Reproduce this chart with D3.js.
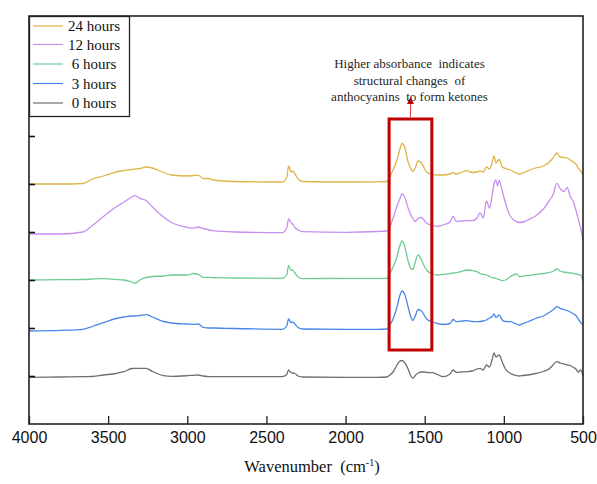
<!DOCTYPE html>
<html>
<head>
<meta charset="utf-8">
<script src="https://cdn.jsdelivr.net/npm/d3@7"></script>
<style>
  html, body { margin: 0; padding: 0; background: #fff; }
  svg { display: block; }
</style>
</head>
<body>
<svg id="chart" width="597" height="484"></svg>
<script>
// FTIR spectra recorded at several storage times (absorbance, stacked with an offset)
const wavenumbers = [4000, 3800, 3660, 3600, 3530, 3450, 3400, 3350, 3330, 3300,
  3260, 3220, 3150, 3100, 3000, 2960, 2930, 2900, 2860, 2840,
  2700, 2400, 2372, 2360, 2345, 2335, 2320, 2300, 2270, 2000,
  1800, 1740, 1720, 1700, 1675, 1660, 1643, 1625, 1605, 1590,
  1575, 1560, 1542, 1520, 1500, 1485, 1450, 1420, 1385, 1340,
  1320, 1300, 1270, 1235, 1200, 1170, 1150, 1130, 1110, 1090,
  1075, 1062, 1050, 1040, 1030, 1010, 990, 960, 920, 900,
  880, 850, 800, 750, 700, 690, 665, 645, 620, 600,
  580, 560, 545, 530, 515, 500];

const abs24h = [0, 0, 0.005, 0.05, 0.08, 0.12, 0.135, 0.145, 0.15, 0.155,
  0.17, 0.16, 0.115, 0.09, 0.08, 0.085, 0.087, 0.055, 0.055, 0.04,
  0.025, 0.02, 0.06, 0.18, 0.12, 0.13, 0.10, 0.05, 0.025, 0.02,
  0.022, 0.025, 0.07, 0.14, 0.24, 0.33, 0.405, 0.36, 0.22, 0.16,
  0.125, 0.16, 0.23, 0.21, 0.15, 0.115, 0.097, 0.09, 0.09, 0.10,
  0.113, 0.10, 0.115, 0.133, 0.115, 0.12, 0.13, 0.12, 0.17, 0.15,
  0.21, 0.28, 0.21, 0.23, 0.245, 0.17, 0.155, 0.14, 0.11, 0.10,
  0.11, 0.13, 0.16, 0.18, 0.24, 0.26, 0.31, 0.27, 0.265, 0.26,
  0.24, 0.22, 0.20, 0.16, 0.13, 0.10];

const abs12h = [-0.02, -0.02, 0, 0.065, 0.155, 0.25, 0.30, 0.35, 0.363, 0.337,
  0.315, 0.25, 0.15, 0.095, 0.047, 0.038, 0.05, 0.035, 0.02, 0.013,
  0, -0.007, 0.04, 0.13, 0.095, 0.08, 0.045, 0.02, 0.003, -0.003,
  0.005, 0.01, 0.053, 0.14, 0.26, 0.32, 0.38, 0.345, 0.24, 0.18,
  0.135, 0.105, 0.135, 0.145, 0.11, 0.085, 0.065, 0.055, 0.07, 0.10,
  0.155, 0.105, 0.11, 0.113, 0.113, 0.14, 0.19, 0.14, 0.31, 0.24,
  0.36, 0.48, 0.52, 0.46, 0.515, 0.41, 0.29, 0.16, 0.103, 0.095,
  0.10, 0.12, 0.16, 0.23, 0.345, 0.37, 0.487, 0.437, 0.405, 0.445,
  0.353, 0.30, 0.22, 0.13, 0.04, -0.08];

const abs6h = [0, 0.003, 0.005, 0.01, 0.013, 0.005, 0, -0.02, -0.033, 0,
  0.025, 0.035, 0.04, 0.05, 0.05, 0.065, 0.057, 0.027, 0.027, 0.023,
  0.02, 0.017, 0.05, 0.145, 0.10, 0.10, 0.07, 0.03, 0.013, 0.017,
  0.017, 0.017, 0.067, 0.13, 0.235, 0.33, 0.39, 0.33, 0.19, 0.12,
  0.105, 0.18, 0.25, 0.20, 0.13, 0.095, 0.06, 0.05, 0.055, 0.065,
  0.07, 0.073, 0.085, 0.10, 0.095, 0.083, 0.065, 0.055, 0.05, 0.035,
  0.025, 0.02, 0.015, 0.01, 0.005, -0.007, 0, 0.033, 0.06, 0.033,
  0.04, 0.045, 0.055, 0.065, 0.08, 0.085, 0.11, 0.09, 0.08, 0.075,
  0.07, 0.067, 0.06, 0.055, 0.05, -0.017];

const abs3h = [-0.03, -0.023, -0.013, 0.015, 0.053, 0.095, 0.11, 0.12, 0.12, 0.125,
  0.133, 0.11, 0.065, 0.05, 0.04, 0.037, 0.04, 0.007, 0, 0,
  -0.005, -0.013, 0.02, 0.09, 0.053, 0.06, 0.04, 0.005, -0.01, -0.013,
  -0.013, -0.01, 0.03, 0.09, 0.21, 0.31, 0.37, 0.33, 0.21, 0.12,
  0.075, 0.12, 0.185, 0.17, 0.12, 0.085, 0.06, 0.045, 0.035, 0.045,
  0.085, 0.063, 0.068, 0.073, 0.065, 0.063, 0.065, 0.07, 0.08, 0.10,
  0.11, 0.14, 0.105, 0.115, 0.13, 0.08, 0.065, 0.063, 0.04, 0.03,
  0.045, 0.06, 0.095, 0.12, 0.17, 0.18, 0.213, 0.197, 0.185, 0.175,
  0.16, 0.14, 0.125, 0.09, 0.057, 0.03];

const abs0h = [-0.013, -0.01, -0.007, -0.005, 0.01, 0.025, 0.043, 0.075, 0.077, 0.077,
  0.077, 0.045, 0.003, -0.003, 0.003, 0.007, 0.01, 0, -0.007, -0.007,
  -0.007, -0.007, 0.015, 0.06, 0.035, 0.03, 0.025, 0, -0.01, -0.013,
  -0.013, -0.01, 0.01, 0.04, 0.11, 0.145, 0.155, 0.13, 0.07, 0.01,
  -0.023, 0.005, 0.03, 0.04, 0.04, 0.035, 0.033, 0.015, -0.007, 0.02,
  0.06, 0.035, 0.04, 0.043, 0.05, 0.07, 0.077, 0.06, 0.11, 0.09,
  0.16, 0.23, 0.19, 0.20, 0.21, 0.14, 0.07, 0.027, 0.003, 0,
  0.005, 0.01, 0.025, 0.045, 0.09, 0.11, 0.143, 0.13, 0.12, 0.11,
  0.105, 0.085, 0.07, 0.04, 0.06, 0];

const seriesNames = ["24 hours", "12 hours", "6 hours", "3 hours", "0 hours"];
const seriesValues = [abs24h, abs12h, abs6h, abs3h, abs0h];
const seriesOffsets = [2.40, 1.92, 1.44, 0.96, 0.48];
const seriesColors = ["#e0b54a", "#c98ff0", "#6fcb94", "#4a86ea", "#6f6f6f"];

const xTicks = [4000, 3500, 3000, 2500, 2000, 1500, 1000, 500];
const yTicks = [0.48, 0.96, 1.44, 1.92, 2.40, 2.88];

const annotationLines = ["Higher absorbance  indicates", "structural changes  of", "anthocyanins  to form ketones"];
const highlightRange = [1725, 1455];   // carbonyl / C=C region (cm-1)

// ---- layout ----
const svg = d3.select("#chart");
const plot = { left: 29, right: 583, top: 16, bottom: 424 };

const x = d3.scaleLinear().domain([4000, 500]).range([plot.left, plot.right]);
const y = d3.scaleLinear().domain([0, 4.08]).range([plot.bottom, plot.top]);

// spectra
const line = d3.line()
  .x(d => x(d[0]))
  .y(d => y(d[1]))
  .curve(d3.curveMonotoneX);

const spectra = svg.append("g").attr("class", "spectra");
seriesValues.forEach((vals, i) => {
  const pts = wavenumbers.map((w, j) => [w, vals[j] + seriesOffsets[i]]);
  spectra.append("path")
    .datum(pts)
    .attr("d", line)
    .attr("fill", "none")
    .attr("stroke", seriesColors[i])
    .attr("stroke-width", 1.3)
    .attr("stroke-linejoin", "round");
});

// frame
svg.append("rect")
  .attr("x", plot.left).attr("y", plot.top)
  .attr("width", plot.right - plot.left).attr("height", plot.bottom - plot.top)
  .attr("fill", "none").attr("stroke", "#222").attr("stroke-width", 1.6);

// x axis (ticks pointing inward)
const xAxis = svg.append("g")
  .attr("transform", `translate(0,${plot.bottom})`)
  .call(d3.axisBottom(x).tickValues(xTicks).tickSizeInner(-8).tickSizeOuter(0).tickPadding(8).tickFormat(d3.format("d")));
xAxis.select(".domain").remove();
xAxis.selectAll(".tick line").attr("stroke", "#222").attr("stroke-width", 1.3);
xAxis.selectAll(".tick text")
  .attr("font-family", "'Liberation Sans', Arial, sans-serif")
  .attr("font-size", 16).attr("fill", "#111");

// y axis: unlabelled ticks marking each spectrum's baseline
const yAxis = svg.append("g")
  .attr("transform", `translate(${plot.left},0)`)
  .call(d3.axisLeft(y).tickValues(yTicks).tickSizeInner(-6).tickSizeOuter(0).tickFormat(""));
yAxis.select(".domain").remove();
yAxis.selectAll(".tick line").attr("stroke", "#111").attr("stroke-width", 1.6);

// axis title
const title = svg.append("text")
  .attr("x", 312).attr("y", 472)
  .attr("text-anchor", "middle")
  .attr("font-family", "'Liberation Serif', 'Times New Roman', serif")
  .attr("font-size", 16.5).attr("fill", "#111")
  .style("white-space", "pre");
title.append("tspan").text("Wavenumber  (cm");
title.append("tspan").attr("font-size", 10).attr("dy", -6).text("-1");
title.append("tspan").attr("dy", 6).text(")");

// highlighted band
const band = svg.append("g").attr("class", "highlight");
const bandTop = y(2.40 + 0.65), bandBottom = y(0.96 - 0.22);
band.append("rect")
  .attr("x", x(highlightRange[0])).attr("y", bandTop)
  .attr("width", x(highlightRange[1]) - x(highlightRange[0]))
  .attr("height", bandBottom - bandTop)
  .attr("fill", "none").attr("stroke", "#c00000").attr("stroke-width", 3);

const arrowX = (x(highlightRange[0]) + x(highlightRange[1])) / 2;
band.append("line")
  .attr("x1", arrowX).attr("x2", arrowX)
  .attr("y1", bandTop - 1.5).attr("y2", bandTop - 16)
  .attr("stroke", "#d04040").attr("stroke-width", 1);
band.append("path")
  .attr("d", `M${arrowX - 3.5},${bandTop - 15} L${arrowX + 3.5},${bandTop - 15} L${arrowX},${bandTop - 22} Z`)
  .attr("fill", "#c00000");

const note = svg.append("text")
  .attr("text-anchor", "middle")
  .attr("font-family", "'Liberation Serif', 'Times New Roman', serif")
  .attr("font-size", 13).attr("fill", "#262626")
  .style("white-space", "pre");
annotationLines.forEach((t, i) => {
  note.append("tspan").attr("x", arrowX - 1).attr("y", 68 + i * 16.5).text(t);
});

// legend
const legend = svg.append("g").attr("class", "legend");
legend.append("rect")
  .attr("x", 29.5).attr("y", 16.5).attr("width", 100).attr("height", 100)
  .attr("fill", "#fff").attr("stroke", "#222").attr("stroke-width", 1.3);
const legendY = [26, 44.5, 64, 83.5, 103];
seriesNames.forEach((name, i) => {
  legend.append("line")
    .attr("x1", 33).attr("x2", 63)
    .attr("y1", legendY[i]).attr("y2", legendY[i])
    .attr("stroke", seriesColors[i]).attr("stroke-width", 1.2);
  legend.append("text")
    .attr("x", 94).attr("y", legendY[i] + 5)
    .attr("text-anchor", "middle")
    .attr("font-family", "'Liberation Serif', 'Times New Roman', serif")
    .attr("font-size", 15).attr("fill", "#111")
    .text(name);
});
</script>
</body>
</html>
